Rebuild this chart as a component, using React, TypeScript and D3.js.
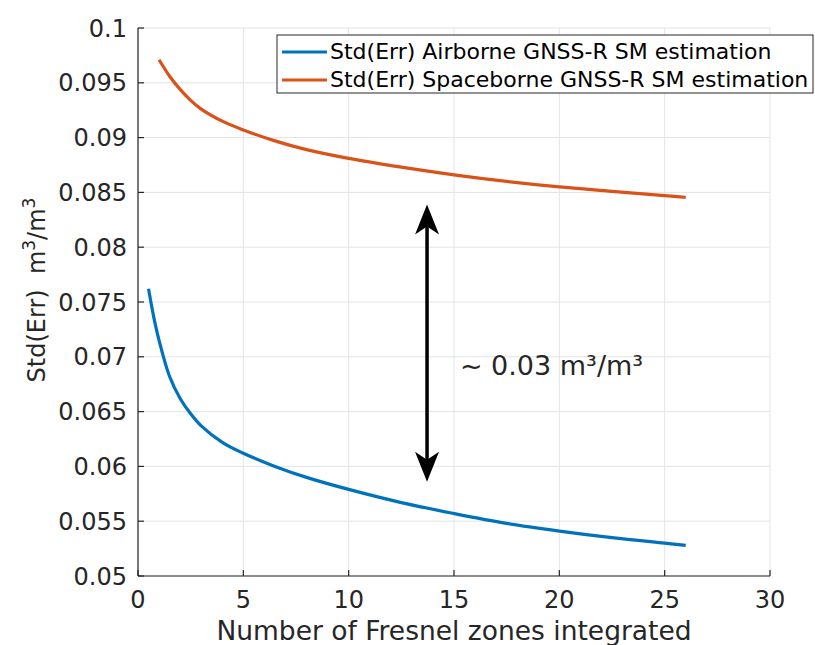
import React from "react";
import * as d3 from "d3";

// ---- data ----
const xTicks = [0, 5, 10, 15, 20, 25, 30];
const xTickLabels = ["0", "5", "10", "15", "20", "25", "30"];
const yTicks = [0.05, 0.055, 0.06, 0.065, 0.07, 0.075, 0.08, 0.085, 0.09, 0.095, 0.1];
const yTickLabels = ["0.05", "0.055", "0.06", "0.065", "0.07", "0.075", "0.08", "0.085", "0.09", "0.095", "0.1"];

const airborneN = [0.5, 0.75, 1, 1.5, 2, 2.5, 3, 4, 5, 6.5, 8, 10, 12.5, 15, 17.5, 20, 22.5, 25, 26];
const airborneStd = [0.0762, 0.0736, 0.0715, 0.0682, 0.0662, 0.0648, 0.0637, 0.0622, 0.0612, 0.06, 0.059, 0.0579, 0.0567, 0.0557, 0.0548, 0.0541, 0.0535, 0.053, 0.0528];

const spaceborneN = [1, 1.5, 2, 2.5, 3, 4, 5, 6.5, 8, 10, 12.5, 15, 17.5, 20, 22.5, 25, 26];
const spaceborneStd = [0.0971, 0.0956, 0.0944, 0.0934, 0.0926, 0.0915, 0.0907, 0.0897, 0.0889, 0.0881, 0.0873, 0.0866, 0.086, 0.0855, 0.0851, 0.0847, 0.08455];

const seriesNames = ["Std(Err) Airborne GNSS-R SM estimation", "Std(Err) Spaceborne GNSS-R SM estimation"];
const seriesColors = ["#0072BD", "#D95319"];

const xLabel = "Number of Fresnel zones integrated";
const annotationText = "~ 0.03 m\u00B3/m\u00B3";
// annotation arrow (data units)
const arrowX = 13.72;
const arrowTop = 0.0839;
const arrowBottom = 0.0586;
const annotX = 15.28;
const annotY = 0.0683;

const W = 815;
const H = 645;
const FONT = "'DejaVu Sans', Verdana, sans-serif";
const TXT = "#262626";

export default function App() {
  const x = d3.scaleLinear().domain([0, 30]).range([138, 770]);
  const y = d3.scaleLinear().domain([0.05, 0.1]).range([576, 28]);

  const line = d3
    .line<[number, number]>()
    .x((d) => x(d[0]))
    .y((d) => y(d[1]))
    .curve(d3.curveCatmullRom.alpha(0.5));

  const airData = airborneN.map((n, i) => [n, airborneStd[i]] as [number, number]);
  const spaceData = spaceborneN.map((n, i) => [n, spaceborneStd[i]] as [number, number]);

  const ax = x(arrowX);
  const aTop = y(arrowTop);
  const aBot = y(arrowBottom);
  const headL = 30;
  const headW = 12;
  const notch = 22;
  const topHead = `M${ax},${aTop} L${ax + headW},${aTop + headL} L${ax},${aTop + notch} L${ax - headW},${aTop + headL} Z`;
  const botHead = `M${ax},${aBot} L${ax + headW},${aBot - headL} L${ax},${aBot - notch} L${ax - headW},${aBot - headL} Z`;

  const x0 = x(0), x1 = x(30), y0 = y(0.05), y1 = y(0.1);

  return (
    <svg
      width={W}
      height={H}
      style={{ position: "absolute", left: 0, top: 0, background: "#fff" }}
      fontFamily={FONT}
    >
      <rect x={0} y={0} width={W} height={H} fill="#fff" />
      {/* grid */}
      {xTicks.map((t) => (
        <line key={"gx" + t} x1={x(t)} x2={x(t)} y1={y0} y2={y1} stroke="#e4e4e4" strokeWidth={1} />
      ))}
      {yTicks.map((t) => (
        <line key={"gy" + t} x1={x0} x2={x1} y1={y(t)} y2={y(t)} stroke="#e4e4e4" strokeWidth={1} />
      ))}
      {/* axes */}
      <line x1={x0} x2={x1} y1={y0} y2={y0} stroke={TXT} strokeWidth={1.2} />
      <line x1={x0} x2={x0} y1={y0} y2={y1} stroke={TXT} strokeWidth={1.2} />
      {xTicks.map((t) => (
        <line key={"tx" + t} x1={x(t)} x2={x(t)} y1={y0} y2={y0 - 6} stroke={TXT} strokeWidth={1.2} />
      ))}
      {yTicks.map((t) => (
        <line key={"ty" + t} x1={x0} x2={x0 + 6} y1={y(t)} y2={y(t)} stroke={TXT} strokeWidth={1.2} />
      ))}
      {/* tick labels */}
      {xTicks.map((t, i) => (
        <text key={"lx" + t} x={x(t)} y={608} textAnchor="middle" fontSize={24} fill={TXT}>
          {xTickLabels[i]}
        </text>
      ))}
      {yTicks.map((t, i) => (
        <text key={"ly" + t} x={127} y={y(t) + 8.5} textAnchor="end" fontSize={24} fill={TXT}>
          {yTickLabels[i]}
        </text>
      ))}
      {/* axis labels */}
      <text x={(x0 + x1) / 2} y={640} textAnchor="middle" fontSize={26.5} fill={TXT}>
        {xLabel}
      </text>
      <text transform={`translate(45,290) rotate(-90)`} textAnchor="middle" fontSize={24} fill={TXT}>
        <tspan>Std(Err)</tspan>
        <tspan>{"\u00A0\u00A0m"}</tspan>
        <tspan dy={-10} fontSize={17}>3</tspan>
        <tspan dy={10}>/m</tspan>
        <tspan dy={-10} fontSize={17}>3</tspan>
      </text>
      {/* series */}
      <path d={line(airData) || ""} fill="none" stroke={seriesColors[0]} strokeWidth={3.2} strokeLinecap="butt" />
      <path d={line(spaceData) || ""} fill="none" stroke={seriesColors[1]} strokeWidth={3.2} strokeLinecap="butt" />
      {/* arrow */}
      <line x1={ax} x2={ax} y1={aTop + 15} y2={aBot - 15} stroke="#000" strokeWidth={3.5} />
      <path d={topHead} fill="#000" />
      <path d={botHead} fill="#000" />
      <text x={x(annotX)} y={y(annotY)} fontSize={27} fill={TXT}>
        {annotationText}
      </text>
      {/* legend */}
      <rect x={277} y={35} width={536} height={58} fill="#fff" stroke={TXT} strokeWidth={1} />
      {seriesNames.map((s, i) => (
        <g key={s}>
          <line x1={282} x2={327} y1={52 + i * 28} y2={52 + i * 28} stroke={seriesColors[i]} strokeWidth={3.2} />
          <text x={330} y={59 + i * 28} fontSize={22} fill="#000">
            {s}
          </text>
        </g>
      ))}
    </svg>
  );
}
